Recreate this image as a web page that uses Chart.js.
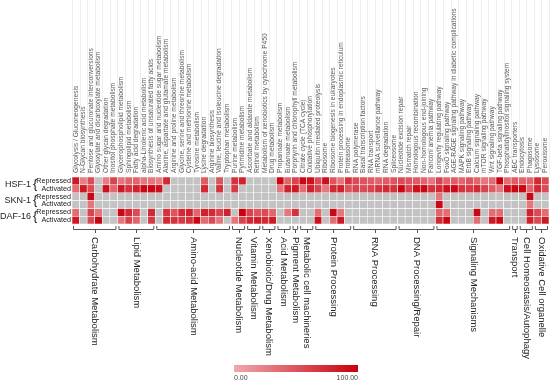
<!DOCTYPE html>
<html>
<head>
<meta charset="utf-8">
<script src="https://cdn.jsdelivr.net/npm/chart.js@4.4.1/dist/chart.umd.min.js"></script>
<style>
  html, body { margin: 0; padding: 0; background: #fff; }
  #wrap { width: 550px; height: 385px; }
</style>
</head>
<body>
<div id="wrap"><canvas id="heatmap" width="550" height="385"></canvas></div>
<script>
// KEGG pathways (columns)
const pathways = [
  'Glycolysis / Gluconeogenesis', 'N-Glycan biosynthesis', 'Pentose and glucuronate interconversions',
  'Glyoxylate and dicarboxylate metabolism', 'Other glycan degradation', 'Inositol phosphate metabolism',
  'Glycerophospholipid metabolism', 'Sphingolipid metabolism', 'Fatty acid degradation',
  'alpha-Linolenic acid metabolism', 'Biosynthesis of unsaturated fatty acids',
  'Amino sugar and nucleotide sugar metabolism', 'Alanine, aspartate and glutamate metabolism',
  'Arginine and proline metabolism', 'Glycine, serine and threonine metabolism',
  'Cysteine and methionine metabolism', 'Tyrosine metabolism', 'Lysine degradation', 'Arginine biosynthesis',
  'Valine, leucine and isoleucine degradation', 'Tryptophan metabolism', 'Purine metabolism',
  'Pyrimidine metabolism', 'Ascorbate and aldarate metabolism', 'Retinol metabolism',
  'Metabolism of xenobiotics by cytochrome P450', 'Drug metabolism', 'Propanoate metabolism',
  'Butanoate metabolism', 'Porphyrin and chlorophyll metabolism', 'Citrate cycle (TCA cycle)',
  'Oxidative phosphorylation', 'Ubiquitin mediated proteolysis', 'Ribosome', 'Ribosome biogenesis in eukaryotes',
  'Protein processing in endoplasmic reticulum', 'Proteasome', 'RNA polymerase', 'Basal transcription factors',
  'RNA transport', 'mRNA surveillance pathway', 'RNA degradation', 'Spliceosome', 'Nucleotide excision repair',
  'Mismatch repair', 'Homologous recombination', 'Non-homologous end-joining', 'Fanconi anemia pathway',
  'Longevity regulating pathway', 'FoxO signaling pathway',
  'AGE-RAGE signaling pathway in diabetic complications', 'MAPK signaling pathway', 'ErbB signaling pathway',
  'Calcium signaling pathway', 'mTOR signaling pathway', 'Wnt signaling pathway', 'TGF-beta signaling pathway',
  'Phosphatidylinositol signaling system', 'ABC transporters', 'Endocytosis', 'Phagosome', 'Lysosome',
  'Peroxisome'
];

const genes = ['HSF-1', 'SKN-1', 'DAF-16'];
const states = ['Repressed', 'Activated'];

// values 0-100, null = not enriched (grey)
const hsfRepressed = [
  85, 25, 55, null, 25, 60, 30, 40, 40, 30,
  30, 25, 75, null, null, null, null, 45, null, 50,
  null, 70, 80, null, null, null, null, 95, 40, 60,
  95, 90, 55, 90, 50, 30, 70, 55, 50, 45,
  40, 45, 50, 55, 50, 45, 40, 30, 60, 40,
  45, 40, 50, 40, 30, 35, 100, 35, 45, 40,
  40, 75, 55
];
const hsfActivated = [
  35, 85, 55, null, 90, 40, 85, 70, 80, 95,
  95, 90, null, null, null, null, null, 75, null, 70,
  null, 65, null, null, null, null, null, 30, 80, 85,
  35, 80, 60, 30, 75, 80, 50, 60, 55, 60,
  70, 75, 70, 95, 60, 90, 95, 70, 75, 90,
  95, 70, 65, 75, 60, 45, 30, 90, 95, 95,
  40, 75, 55
];
const sknRepressed = [
  null, null, 95, null, null, null, null, null, null, null,
  null, null, null, null, null, null, null, null, null, null,
  null, null, null, null, null, null, null, null, null, null,
  null, null, null, null, null, null, null, null, null, null,
  null, null, null, null, null, null, null, null, 30, null,
  null, null, null, null, null, null, null, null, null, null,
  95, null, null
];
const sknActivated = [
  null, null, 30, null, null, null, null, null, null, null,
  null, null, null, null, null, null, null, null, null, null,
  null, null, null, null, null, null, null, null, null, null,
  null, null, null, null, null, null, null, null, null, null,
  null, null, null, null, null, null, null, null, 95, null,
  null, null, null, null, null, null, null, null, null, null,
  30, null, null
];
const dafRepressed = [
  35, null, 60, 30, null, null, 95, 75, 55, null,
  75, null, 70, 50, 75, 80, 40, 80, 75, 60,
  80, null, 100, 60, 50, 55, 40, null, 30, 70,
  null, null, 35, null, 95, 30, null, null, null, null,
  null, null, null, null, null, null, null, null, 40, 35,
  null, null, null, 95, null, 35, 35, null, null, null,
  80, 55, 35
];
const dafActivated = [
  85, null, 55, 95, null, null, 30, 60, 40, null,
  65, null, 75, 70, 65, 70, 95, 35, 55, 30,
  null, 30, 60, 75, 80, 75, 85, null, null, null,
  null, null, 90, null, 35, 85, null, null, null, null,
  null, null, null, null, null, null, null, null, 75, 95,
  null, null, null, 35, null, 85, 95, null, null, null,
  80, 55, 85
];

const rows = [hsfRepressed, hsfActivated, sknRepressed, sknActivated, dafRepressed, dafActivated];

// functional groups: [label, first column, last column] (1-based)
const groups = [
  ['Carbohydrate Metabolism', 1, 6],
  ['Lipid Metabolism', 7, 11],
  ['Amino-acid Metabolism', 12, 21],
  ['Nucleotide Metabolism', 22, 23],
  ['Vitamin Metabolism', 24, 25],
  ['Xenobiotic/Drug Metabolism', 26, 27],
  ['Acid Metabolism', 28, 29],
  ['Pigment Metabolism', 30, 30],
  ['Metabolic cell machineries', 31, 32],
  ['Protein Processing', 33, 37],
  ['RNA Processing', 38, 43],
  ['DNA Processing/Repair', 44, 48],
  ['Signaling Mechanisms', 49, 58],
  ['Transport', 59, 59],
  ['Cell Homeostasis/Autophagy', 60, 61],
  ['Oxidative Cell organelle', 62, 63]
];

const scaleMin = 0;
const scaleMax = 100;
const FONT = '"Liberation Sans", Arial, sans-serif';
const LOW = [240, 168, 174];
const HIGH = [200, 0, 12];
const EMPTY = '#c3c3c3';

function cellColor(v) {
  if (v === null) return EMPTY;
  const t = (v - scaleMin) / (scaleMax - scaleMin);
  const c = LOW.map((lo, k) => Math.round(lo + (HIGH[k] - lo) * t));
  return `rgb(${c[0]}, ${c[1]}, ${c[2]})`;
}

const datasets = rows.map((vals, r) => ({
  label: genes[Math.floor(r / 2)] + ' ' + states[r % 2],
  data: vals.map(() => [r, r + 1]),
  backgroundColor: vals.map(cellColor),
  borderColor: '#ffffff',
  borderWidth: 0.6,
  borderSkipped: false,
  grouped: false,
  barPercentage: 1,
  categoryPercentage: 1
}));

const labelsPlugin = {
  id: 'heatLabels',
  beforeDraw(chart) {
    const ctx = chart.ctx;
    const area = chart.chartArea;
    const w = (area.right - area.left) / pathways.length;
    ctx.save();
    ctx.strokeStyle = '#eeeeee';
    ctx.lineWidth = 1;
    for (let i = 0; i <= pathways.length; i++) {
      const px = Math.round(area.left + i * w) + 0.5;
      ctx.beginPath();
      ctx.moveTo(px, 0);
      ctx.lineTo(px, area.top - 2);
      ctx.stroke();
    }
    ctx.restore();
  },
  afterDraw(chart) {
    const ctx = chart.ctx;
    const x = chart.scales.x;
    const y = chart.scales.y;
    const area = chart.chartArea;
    const w = (area.right - area.left) / pathways.length;
    ctx.save();

    // pathway names above the grid
    ctx.fillStyle = '#5a5a5a';
    ctx.font = '6.7px ' + FONT;
    ctx.textAlign = 'left';
    ctx.textBaseline = 'middle';
    pathways.forEach((name, i) => {
      ctx.save();
      ctx.translate(x.getPixelForValue(i), area.top - 4);
      ctx.rotate(-Math.PI / 2);
      ctx.fillText(name, 0, 0);
      ctx.restore();
    });

    // row labels on the left
    ctx.fillStyle = '#222';
    ctx.textAlign = 'right';
    ctx.font = '7.2px ' + FONT;
    rows.forEach((_, r) => {
      ctx.fillText(states[r % 2], area.left - 1, y.getPixelForValue(r + 0.5));
    });
    genes.forEach((g, k) => {
      const cy = y.getPixelForValue(2 * k + 1);
      ctx.font = '9px ' + FONT;
      ctx.textAlign = 'right';
      ctx.fillText(g, 31, cy);
      ctx.font = '13px ' + FONT;
      ctx.textAlign = 'left';
      ctx.fillText('{', 33, cy);
    });

    // group brackets and names below the grid
    const by = area.bottom + 5;
    ctx.strokeStyle = '#555';
    ctx.lineWidth = 1;
    groups.forEach(([name, a, b]) => {
      const x0 = area.left + (a - 1) * w + 1.5;
      const x1 = area.left + b * w - 1.5;
      const xc = (x.getPixelForValue(a - 1) + x.getPixelForValue(b - 1)) / 2;
      ctx.beginPath();
      ctx.moveTo(x0, by - 3);
      ctx.lineTo(x0, by + 0.5);
      ctx.lineTo(x1, by + 0.5);
      ctx.lineTo(x1, by - 3);
      ctx.moveTo(Math.round(xc) + 0.5, by + 0.5);
      ctx.lineTo(Math.round(xc) + 0.5, by + 4);
      ctx.stroke();

      ctx.save();
      ctx.fillStyle = '#222';
      ctx.font = '9.5px ' + FONT;
      ctx.textAlign = 'left';
      ctx.textBaseline = 'middle';
      ctx.translate(xc, by + 8);
      ctx.rotate(Math.PI / 2);
      ctx.fillText(name, 0, 0);
      ctx.restore();
    });

    // colour scale
    const lx0 = 234, lx1 = 358, ly = 365, lh = 7;
    const grad = ctx.createLinearGradient(lx0, 0, lx1, 0);
    grad.addColorStop(0, cellColor(scaleMin));
    grad.addColorStop(1, cellColor(scaleMax));
    ctx.fillStyle = grad;
    ctx.fillRect(lx0, ly, lx1 - lx0, lh);
    ctx.fillStyle = '#444';
    ctx.font = '7px ' + FONT;
    ctx.textBaseline = 'middle';
    ctx.textAlign = 'left';
    ctx.fillText(scaleMin.toFixed(2), lx0, ly + lh + 6);
    ctx.textAlign = 'right';
    ctx.fillText(scaleMax.toFixed(2), lx1, ly + lh + 6);

    ctx.restore();
  }
};

new Chart(document.getElementById('heatmap'), {
  type: 'bar',
  data: { labels: pathways, datasets: datasets },
  options: {
    responsive: false,
    animation: false,
    layout: { padding: { left: 72, right: 1, top: 177, bottom: 161 } },
    plugins: { legend: { display: false }, tooltip: { enabled: false } },
    scales: {
      x: { display: false, offset: true, grid: { display: false } },
      y: { display: false, min: 0, max: 6, reverse: true }
    }
  },
  plugins: [labelsPlugin]
});
</script>
</body>
</html>
